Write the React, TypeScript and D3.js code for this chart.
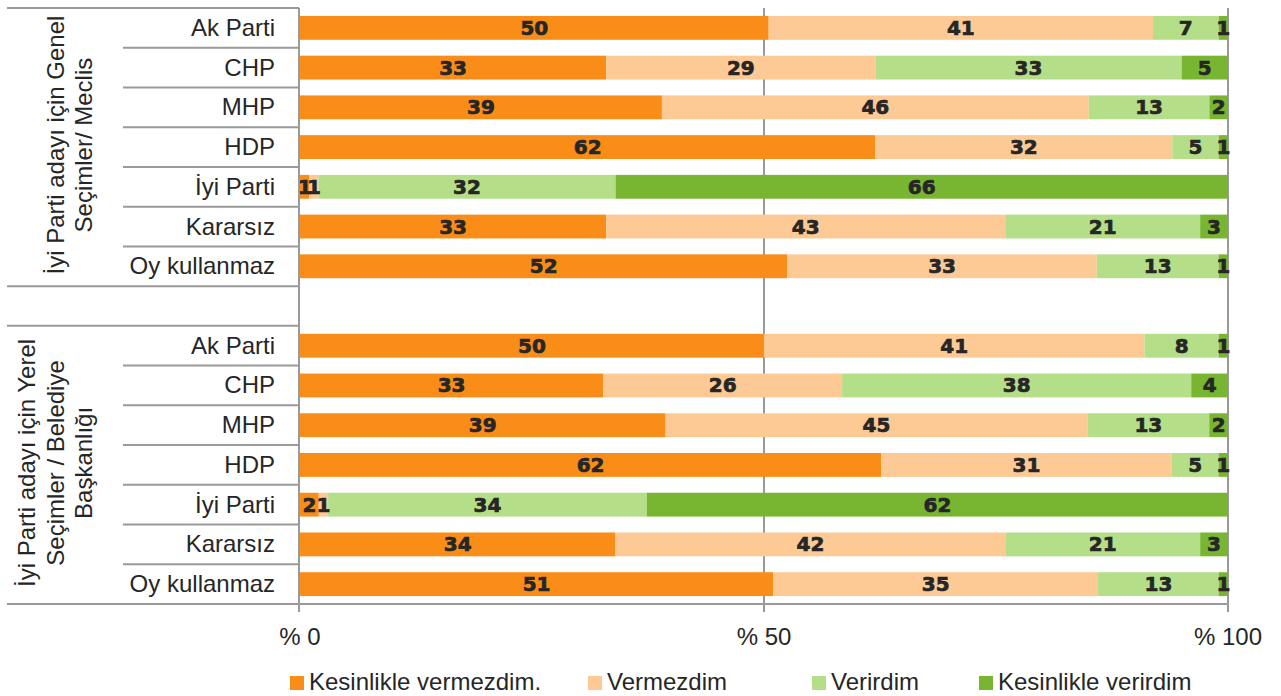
import React from "react";
import * as d3 from "d3";

const parties = ["Ak Parti", "CHP", "MHP", "HDP", "İyi Parti", "Kararsız", "Oy kullanmaz"];
const groupTitles = [
  ["İyi Parti adayı için Genel", "Seçimler/ Meclis"],
  ["İyi Parti adayı için Yerel", "Seçimler / Belediye", "Başkanlığı"],
];
const seriesNames = ["Kesinlikle vermezdim.", "Vermezdim", "Verirdim", "Kesinlikle verirdim"];
const seriesColors = ["#F98D18", "#FDCA96", "#B4DE87", "#78B632"];

// [kesinlikle vermezdim, vermezdim, verirdim, kesinlikle verirdim]
const genelValues = [
  [50, 41, 7, 1],
  [33, 29, 33, 5],
  [39, 46, 13, 2],
  [62, 32, 5, 1],
  [1, 1, 32, 66],
  [33, 43, 21, 3],
  [52, 33, 13, 1],
];
const yerelValues = [
  [50, 41, 8, 1],
  [33, 26, 38, 4],
  [39, 45, 13, 2],
  [62, 31, 5, 1],
  [2, 1, 34, 62],
  [34, 42, 21, 3],
  [51, 35, 13, 1],
];
const tickValues = [0, 0.5, 1];
const tickLabels = ["% 0", "% 50", "% 100"];

const W = 1281;
const H = 696;
const left = 300;
const right = 1228;
const top = 8;
const bottom = 604;
const labelCol = 123;
const gridColor = "#9a9a9a";
const textColor = "#262626";

type Row = { key: string; party: string; group: number; values: number[] };

const rows: Row[] = [];
[genelValues, yerelValues].forEach((vals, g) => {
  vals.forEach((v, i) => rows.push({ key: `${g}-${i}`, party: parties[i], group: g, values: v }));
});
const slots = [...rows.slice(0, 7).map((r) => r.key), "gap", ...rows.slice(7).map((r) => r.key)];

const y = d3.scaleBand<string>().domain(slots).range([top, bottom]).paddingInner(0.4).paddingOuter(0.2);
const x = d3.scaleLinear().domain([0, 1]).range([left, right]);
const step = y.step();

const App = () => {
  const stack = d3
    .stack<Row, number>()
    .keys([0, 1, 2, 3])
    .value((d, k) => d.values[k] / d3.sum(d.values));
  const layers = stack(rows);

  const slotTop = (i: number) => top + i * step;
  const groupStarts = [0, 8];

  return (
    <svg width={W} height={H} style={{ display: "block", position: "absolute", left: 0, top: 0 }}>
      <rect width={W} height={H} fill="#fff" />
      {/* gridlines */}
      {tickValues.slice(1).map((t) => (
        <line key={t} x1={x(t)} x2={x(t)} y1={top} y2={bottom} stroke={gridColor} strokeWidth={2} />
      ))}
      {/* bars */}
      {layers.map((layer, k) =>
        layer.map((seg) => {
          const r = seg.data;
          const x0 = x(seg[0]);
          const x1 = x(seg[1]);
          return (
            <rect
              key={`${k}-${r.key}`}
              x={x0}
              y={y(r.key)!}
              width={Math.max(0, x1 - x0)}
              height={y.bandwidth()}
              fill={seriesColors[k]}
            />
          );
        })
      )}
      {layers.map((layer, k) =>
        layer.map((seg) => {
          const r = seg.data;
          const y0 = y(r.key)!;
          return (
            <text
              key={`t${k}-${r.key}`}
              x={(x(seg[0]) + x(seg[1])) / 2}
              y={y0 + y.bandwidth() / 2 + 7}
              textAnchor="middle"
              fontFamily="DejaVu Sans"
              fontWeight="bold"
              fontSize={20}
              fill={textColor}
              stroke={textColor}
              strokeWidth={0.7}
            >
              {r.values[k]}
            </text>
          );
        })
      )}
      {/* axis lines */}
      <line x1={left - 1} x2={left - 1} y1={top} y2={bottom + 8} stroke={gridColor} strokeWidth={2} />
      <line x1={7} x2={right} y1={bottom} y2={bottom} stroke={gridColor} strokeWidth={2} />
      {tickValues.map((t, i) => (
        <g key={`tick${t}`}>
          <line
            x1={x(t) - (i === 0 ? 1 : 0)}
            x2={x(t) - (i === 0 ? 1 : 0)}
            y1={bottom}
            y2={bottom + 8}
            stroke={gridColor}
            strokeWidth={2}
          />
          <text x={x(t)} y={645} textAnchor="middle" fontFamily="Liberation Sans" fontSize={24} fill={textColor}>
            {tickLabels[i]}
          </text>
        </g>
      ))}
      {/* category separators */}
      {groupStarts.map((s) =>
        d3.range(1, 7).map((j) => (
          <line
            key={`sep${s}-${j}`}
            x1={labelCol}
            x2={left - 1}
            y1={slotTop(s + j)}
            y2={slotTop(s + j)}
            stroke={gridColor}
            strokeWidth={2}
          />
        ))
      )}
      {[0, 7, 8].map((s) => (
        <line key={`g${s}`} x1={7} x2={left - 1} y1={slotTop(s)} y2={slotTop(s)} stroke={gridColor} strokeWidth={2} />
      ))}
      {/* category labels */}
      {rows.map((r) => (
        <text
          key={`c${r.key}`}
          x={275}
          y={y(r.key)! + y.bandwidth() / 2 + 8}
          textAnchor="end"
          fontFamily="Liberation Sans"
          fontSize={24}
          fill={textColor}
        >
          {r.party}
        </text>
      ))}
      {/* group titles */}
      {groupTitles.map((lines, g) => {
        const cy = slotTop(groupStarts[g]) + 3.5 * step - 2;
        return (
          <text
            key={`gt${g}`}
            transform={`translate(0,${cy}) rotate(-90)`}
            textAnchor="middle"
            fontFamily="Liberation Sans"
            fontSize={24}
            fill={textColor}
          >
            {lines.map((ln, i) => (
              <tspan key={i} x={0} y={92 - (lines.length - 1 - i) * 28.5}>
                {ln}
              </tspan>
            ))}
          </text>
        );
      })}
      {/* legend */}
      {seriesNames.map((name, i) => {
        const lx = [290, 588, 812, 979][i];
        return (
          <g key={name}>
            <rect x={lx} y={676} width={14} height={14} fill={seriesColors[i]} />
            <text x={lx + 19} y={690} fontFamily="Liberation Sans" fontSize={24} fill={textColor}>
              {name}
            </text>
          </g>
        );
      })}
    </svg>
  );
};

export default App;
